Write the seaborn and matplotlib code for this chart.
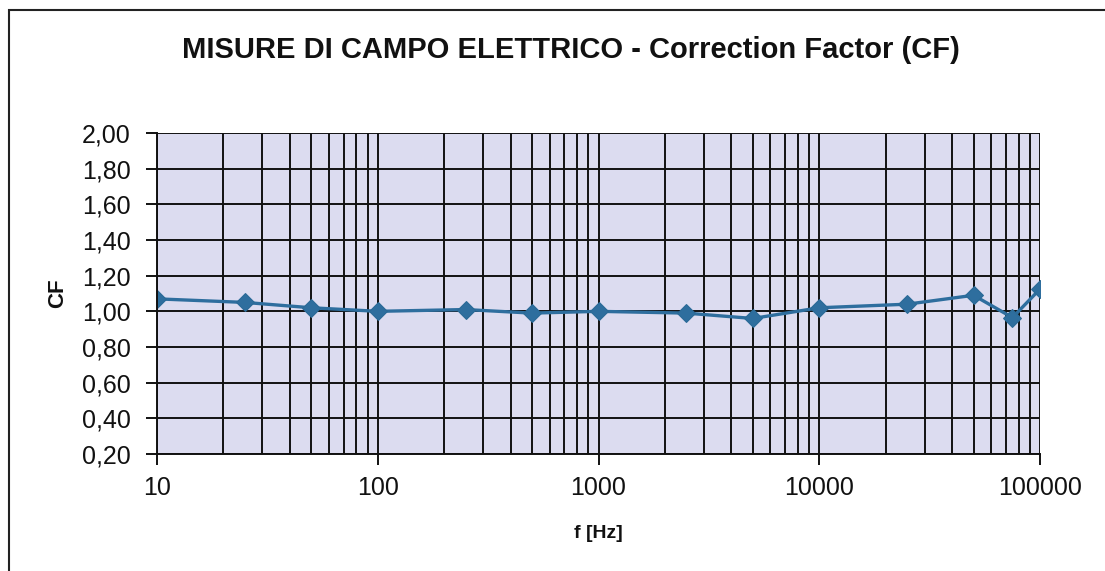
import numpy as np
import pandas as pd
import matplotlib
matplotlib.use("Agg")
import matplotlib.pyplot as plt
import matplotlib.ticker as mticker
from matplotlib.patches import Rectangle
import seaborn as sns

freq = [10, 25, 50, 100, 250, 500, 1000, 2500, 5000, 10000, 25000, 50000, 75000, 100000]
cf = [1.07, 1.05, 1.02, 1.00, 1.01, 0.99, 1.00, 0.99, 0.96, 1.02, 1.04, 1.09, 0.965, 1.125]
y_ticks = [0.2, 0.4, 0.6, 0.8, 1.0, 1.2, 1.4, 1.6, 1.8, 2.0]
x_ticks = [10, 100, 1000, 10000, 100000]

sns.set_theme(style="white")
plt.rcParams['font.family'] = ['Liberation Sans', 'DejaVu Sans']

df = pd.DataFrame({"f": freq, "CF": cf})

fig = plt.figure(figsize=(11.05, 5.71), dpi=100)
ax = fig.add_axes([157/1105, 1 - 454/571, (1040-157)/1105, (454-133)/571])
ax.set_facecolor("#dcdcf0")

sns.lineplot(data=df, x="f", y="CF", ax=ax, color="#2e6e9e", linewidth=2.4,
             marker="D", markersize=9, markeredgecolor="#2a6a96")

ax.set_xscale("log")
ax.set_xlim(10, 100000)
ax.set_ylim(0.2, 2.0)
ax.set_xticks(x_ticks)
ax.xaxis.set_major_formatter(mticker.FuncFormatter(lambda v, p: f"{int(round(v))}"))
ax.xaxis.set_minor_locator(mticker.LogLocator(base=10, subs=np.arange(2, 10), numticks=20))
ax.xaxis.set_minor_formatter(mticker.NullFormatter())
ax.set_yticks(y_ticks)
ax.yaxis.set_major_formatter(mticker.FuncFormatter(lambda v, p: f"{v:.2f}".replace(".", ",")))

ax.grid(True, which="major", axis="both", color="#111111", linewidth=1.4)
ax.grid(True, which="minor", axis="x", color="#111111", linewidth=1.4)
ax.set_axisbelow(True)

for s in ["top", "right"]:
    ax.spines[s].set_visible(False)
for s in ["left", "bottom"]:
    ax.spines[s].set_color("#111111")
    ax.spines[s].set_linewidth(1.4)

ax.tick_params(axis="both", which="major", direction="out", length=8, width=1.4,
               color="#111111", labelsize=18, labelcolor="#111111")
ax.tick_params(axis="y", which="major", pad=11)
ax.tick_params(axis="x", which="minor", length=0)
ax.tick_params(axis="x", which="major", pad=8)
ax.tick_params(left=True, bottom=True)

ax.set_xlabel("f [Hz]", fontsize=14, fontweight="bold", color="#111111", labelpad=18)
ax.set_ylabel("CF", fontsize=16, fontweight="bold", color="#111111", labelpad=10)
fig.text(571/1105, 1 - 50/571, "MISURE DI CAMPO ELETTRICO - Correction Factor (CF)",
         fontsize=21, fontweight="bold", color="#111111", ha="center", va="center")

fig.patches.append(Rectangle((9/1105, -0.1), 1.2, 1 - 10/571 + 0.1,
                             transform=fig.transFigure, fill=False,
                             edgecolor="#222222", linewidth=1.5))

fig.savefig("out.png", dpi=100)
